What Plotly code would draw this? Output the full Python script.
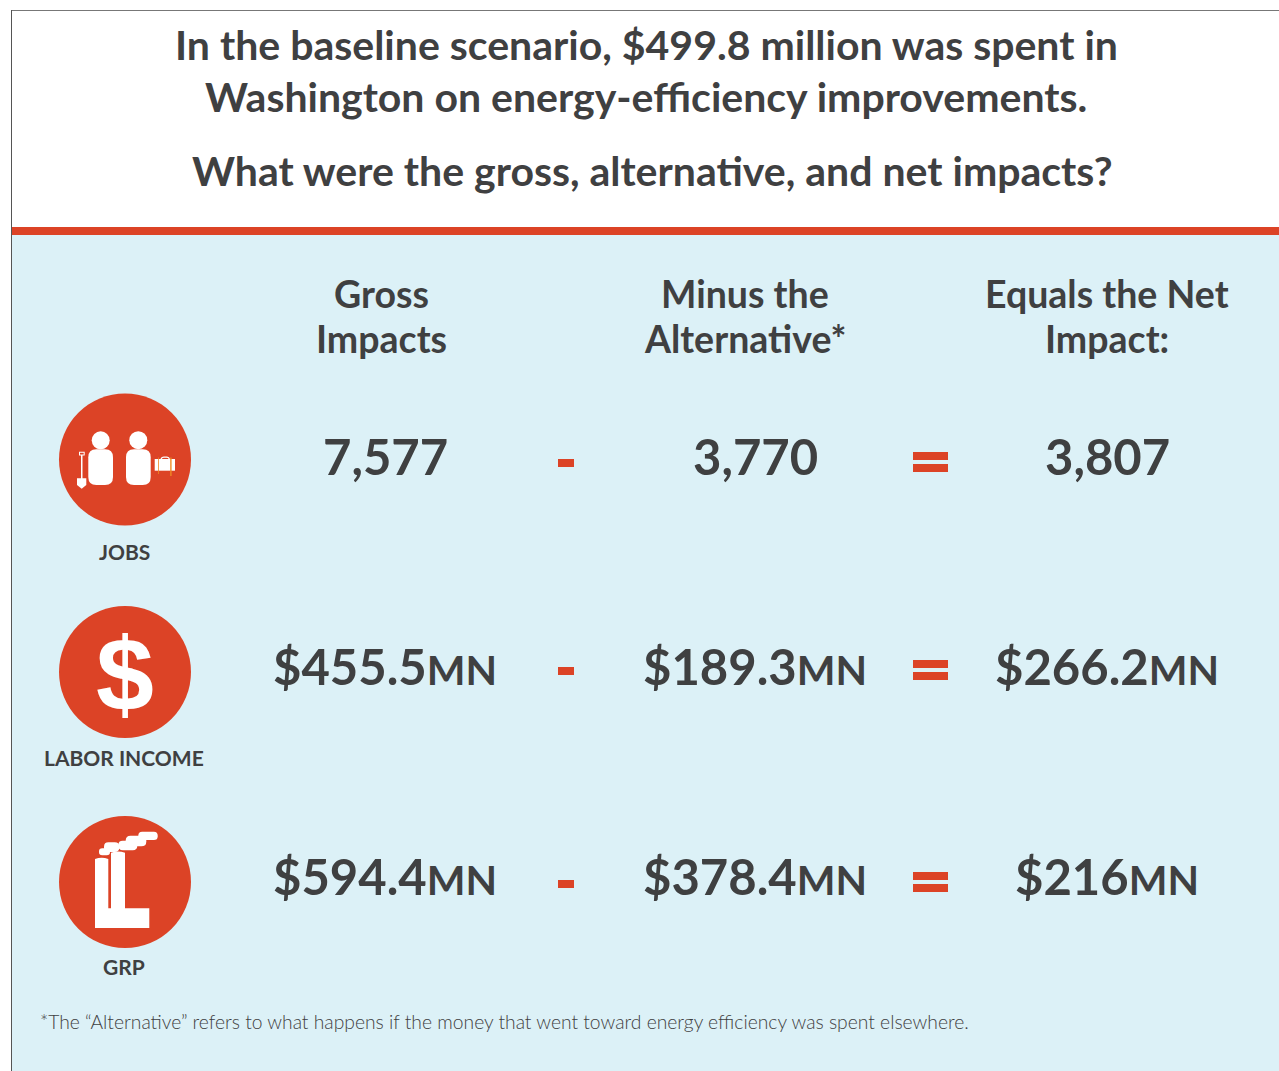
import plotly.graph_objects as go

INK = "#3f4041"
RED = "#dc4326"
BLUE = "#dcf1f7"
FONT = "Lato"

title_lines = ["In the baseline scenario, $499.8 million was spent in",
               "Washington on energy-efficiency improvements.",
               "What were the gross, alternative, and net impacts?"]
title_x = [646, 646, 652.5]
title_y = [44, 96, 170]
headers = [["Gross", "Impacts"], ["Minus the", "Alternative*"], ["Equals the Net", "Impact:"]]
header_x = [381, 745, 1107]
header_y = [293.5, 338.5]
metrics = ["JOBS", "LABOR INCOME", "GRP"]
metric_y = [551, 757, 966]
gross = ["7,577", "$455.5", "$594.4"]
alternative = ["3,770", "$189.3", "$378.4"]
net = ["3,807", "$266.2", "$216"]
units = ["", "MN", "MN"]
row_y = [456, 666, 876]
col_x = [385, 755, 1107]
circle_y = [459.5, 672, 882]
minus_y = [463, 671, 884]
equals_y = [462, 670, 882]
footnote = "*The “Alternative” refers to what happens if the money that went toward energy efficiency was spent elsewhere."

fig = go.Figure()
shapes = []
ann = []


def rect(x0, y0, x1, y1, color, layer="below"):
    shapes.append(dict(type="rect", x0=x0, y0=y0, x1=x1, y1=y1, fillcolor=color,
                       line=dict(width=0), layer=layer))


def circ(cx, cy, r, color):
    shapes.append(dict(type="circle", x0=cx - r, y0=cy - r, x1=cx + r, y1=cy + r,
                       fillcolor=color, line=dict(width=0), layer="below"))


def rrect_path(x0, y0, x1, y1, r):
    return (f"M{x0+r},{y0} L{x1-r},{y0} Q{x1},{y0} {x1},{y0+r} L{x1},{y1-r} Q{x1},{y1} {x1-r},{y1} "
            f"L{x0+r},{y1} Q{x0},{y1} {x0},{y1-r} L{x0},{y0+r} Q{x0},{y0} {x0+r},{y0} Z")


def path(d, color="white"):
    shapes.append(dict(type="path", path=d, fillcolor=color, line=dict(width=0), layer="below"))


def text(x, y, s, size, bold=True, color=INK, family=FONT):
    ann.append(dict(x=x, y=y, xref="x", yref="y", text=f"<b>{s}</b>" if bold else s,
                    showarrow=False, xanchor="center", yanchor="middle", align="center",
                    font=dict(family=family, size=size, color=color)))


# panels
rect(11, 11, 1279, 227, "white")
rect(11, 235, 1279, 1071, BLUE)
rect(12, 227, 1279, 235, RED)
rect(11, 10, 1279, 11, "#777777")
rect(11, 10, 12, 1071, "#555555")

# titles
for s, x, y in zip(title_lines, title_x, title_y):
    text(x, y, s, 41)
for lines, x in zip(headers, header_x):
    for s, y in zip(lines, header_y):
        text(x, y, s, 37.5)

# rows
for i in range(3):
    circ(125, circle_y[i], 66, RED)
    for vals, x in zip((gross, alternative, net), col_x):
        s = vals[i]
        if units[i]:
            s += f'<span style="font-size:41px">{units[i]}</span>'
        text(x, row_y[i], s, 49)
    text(124, metric_y[i], metrics[i], 21)
    rect(558, minus_y[i] - 4, 574, minus_y[i] + 4, RED)
    rect(913, equals_y[i] - 10, 948, equals_y[i] - 2, RED)
    rect(913, equals_y[i] + 2, 948, equals_y[i] + 10, RED)

# jobs icon
circ(100.7, 440.3, 9, "white")
circ(138.3, 440.2, 9, "white")
path(rrect_path(88.3, 449.3, 113, 485, 8))
path(rrect_path(126, 449.3, 150.7, 485, 8))
rect(81, 455, 82.5, 479, "white")
path("M79,451.7 L84.7,451.7 L84.7,455.5 L79,455.5 Z M80,452.7 L83.7,452.7 L83.7,454.5 L80,454.5 Z")
path("M77,478.3 L86.3,478.3 L86.3,485 L81.7,488.7 L77,485 Z")
rect(154.7, 459, 175, 470.7, "white")
path("M160.5,459 Q161,456.5 164,456.5 L167,456.5 Q169.5,456.5 170,459 L168.8,459 Q168,457.7 166.5,457.7 L164,457.7 Q162.3,457.7 161.8,459 Z")
rect(158, 457.5, 158.8, 474, "#ef8a24")
rect(170.2, 457.5, 171.6, 476, "#ef8a24")

# labor income icon
text(125, 674, "$", 104, family="Liberation Sans", color="white")

# GRP icon
def gx(v):
    return round(v / 3 + 40, 1)


def gy(v):
    return round(v / 3 + 800, 1)


path(f"M{gx(165)},{gy(384)} L{gx(165)},{gy(177)} Q{gx(185)},{gy(170)} {gx(205)},{gy(177)} L{gx(205)},{gy(325)} "
     f"L{gx(213)},{gy(325)} L{gx(213)},{gy(158)} Q{gx(234)},{gy(151)} {gx(255)},{gy(158)} L{gx(255)},{gy(325)} "
     f"L{gx(328)},{gy(325)} L{gx(328)},{gy(384)} Z")
for a, b, c, d in [(177, 145, 210, 166), (192, 127, 238, 156), (235, 122, 292, 151),
                   (257, 107, 319, 139), (295, 95, 353, 120)]:
    path(rrect_path(gx(a), gy(b), gx(c), gy(d), (d - b) / 6.5))

# footnote
ann.append(dict(x=504, y=1021, xref="x", yref="y", text=footnote, showarrow=False,
                xanchor="center", yanchor="middle",
                font=dict(family="Lato Light, Lato", size=19.3, color="#3f4041")))

fig.update_layout(
    width=1279, height=1071, margin=dict(l=0, r=0, t=0, b=0),
    paper_bgcolor="white", plot_bgcolor="white", showlegend=False,
    xaxis=dict(range=[0, 1279], visible=False, fixedrange=True),
    yaxis=dict(range=[1071, 0], visible=False, fixedrange=True),
    shapes=shapes, annotations=ann,
)
fig.write_html("out.html", config={"displayModeBar": False},
               post_script="document.body.style.margin='0';document.documentElement.style.overflow='hidden';")
